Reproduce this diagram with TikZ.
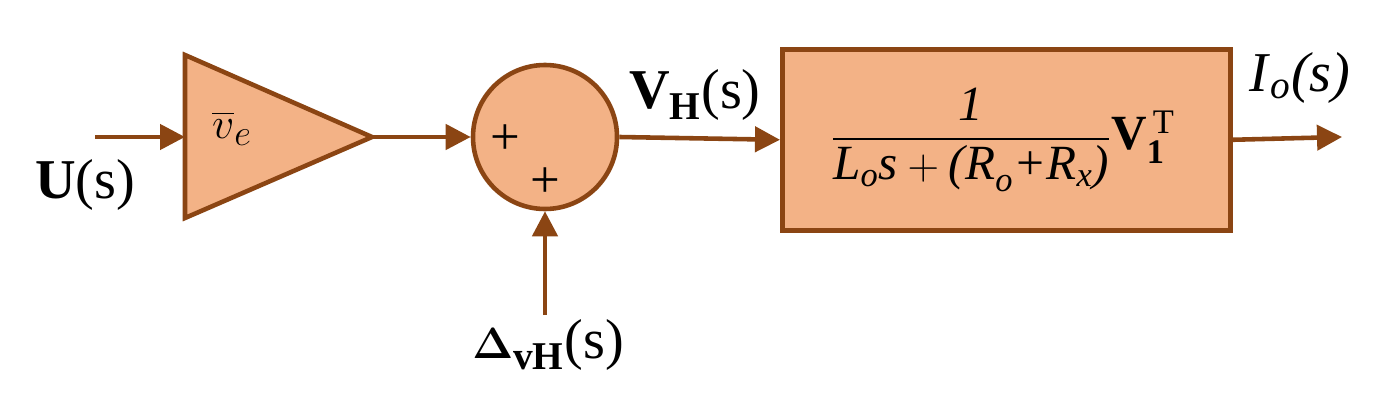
\documentclass[tikz,border=0pt]{standalone}
\usepackage{amsmath}
\usepackage{fontspec}
\setmainfont{Liberation Serif}
\usetikzlibrary{positioning, arrows.meta, calc}
\definecolor{blockfill}{RGB}{243,178,134}
\definecolor{blockline}{RGB}{139,69,19}
\begin{document}
\begin{tikzpicture}[x=0.02cm, y=-0.02cm,
    sig/.style={draw=blockline, line width=2.6pt, -{Triangle[length=5mm, width=5mm]}},
    blk/.style={draw=blockline, fill=blockfill, line width=2.6pt},
    lbl/.style={font=\fontsize{32}{38}\selectfont, inner sep=0pt}
]
\useasboundingbox (0,0) rectangle (1397,402);

% blocks
\draw[blk] (185,55) -- (372,137) -- (185,218) -- cycle;
\node (gain) [lbl] at (232,128) {$\overline{v}_{e}$};
\coordinate (gain_in) at (185,137);
\coordinate (gain_out) at (372,137);
\node (sum) [blk, circle, minimum size=144*0.02cm, inner sep=0pt] at (545,137) {};
\node (plus1) [lbl, font=\fontsize{30}{36}\selectfont] at (505,140) {+};
\node (plus2) [lbl, font=\fontsize{30}{36}\selectfont] at (545,183) {+};
\node (plant) [blk, minimum width=448*0.02cm, minimum height=181*0.02cm, anchor=north west, inner sep=0pt] at (780,47) {};
\node (frac) [lbl, font=\fontsize{28}{34}\selectfont] at (1003,140)
  {$\dfrac{\textit{1}}{\textit{L}_{\textit{o}}\textit{s}+\textit{(R}_{\textit{o}}\textit{+R}_{\textit{x}}\textit{)}}\mathbf{V}_{\mathbf{1}}^{\,\mathrm{T}}$};

% signals
\coordinate (u_in) at (95,137);
\coordinate (d_in) at (545,315);
\coordinate (i_out) at (1342,137);
\draw[sig] (u_in) -- (gain_in);
\draw[sig] (gain_out) -- (sum.west);
\draw[sig] (d_in) -- (sum.south);
\draw[sig] (sum.east) -- (plant.west);
\draw[sig] (plant.east) -- (i_out);

% labels
\node (u_lbl) [lbl] at (85,185) {\textbf{U}(s)};
\node (d_lbl) [lbl] at (548,345) {$\boldsymbol{\Delta}_{\textbf{vH}}$(s)};
\node (v_lbl) [lbl] at (695,95) {$\mathbf{V}_{\mathbf{H}}$(s)};
\node (i_lbl) [lbl] at (1300,78) {\textit{I}$_{\textit{o}}$\textit{(s)}};
\end{tikzpicture}
\end{document}
